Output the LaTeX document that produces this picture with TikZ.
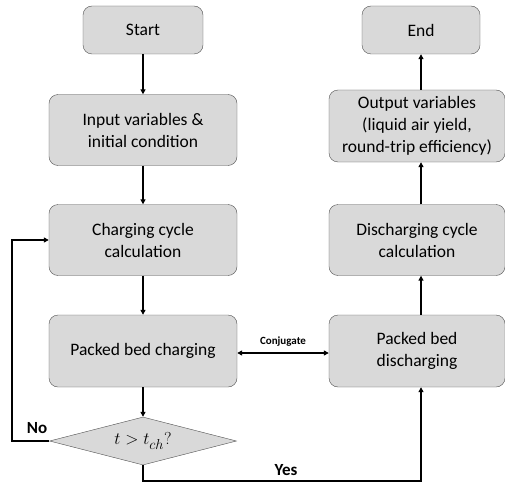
\documentclass[tikz,border=0pt]{standalone}
\usepackage{fontspec}
\setmainfont{Carlito}
\usetikzlibrary{arrows.meta, positioning, shapes.geometric}
\definecolor{boxfill}{RGB}{217,217,217}
\definecolor{boxline}{RGB}{80,80,80}

\begin{document}
\begin{tikzpicture}[x=1pt, y=-1pt,
    stepbox/.style={draw=boxline, fill=boxfill, rounded corners=9pt, thin,
      align=center, font=\fontsize{17.5}{22}\selectfont, inner sep=2pt},
    decision/.style={draw=boxline, fill=boxfill, diamond, aspect=3.9, thin,
      inner sep=0pt, minimum width=187pt, minimum height=48pt,
      font=\fontsize{19}{22}\selectfont},
    flow/.style={-{Triangle[length=5pt, width=5pt]}, line width=1.6pt},
    tag/.style={font=\bfseries\fontsize{17}{20}\selectfont}]
  \useasboundingbox (0,0) rectangle (505,484);
  % left column
  \node[stepbox, minimum width=120pt, minimum height=48pt] (start) at (143,30) {Start};
  \node[stepbox, minimum width=188pt, minimum height=71pt] (input) at (143,130) {Input variables \&\\initial condition};
  \node[stepbox, minimum width=188pt, minimum height=71pt] (chcalc) at (143,240) {Charging cycle\\calculation};
  \node[stepbox, minimum width=188pt, minimum height=72pt] (chbed) at (143,351) {Packed bed charging};
  \node[decision] (check) at (143,441) {$t > t_{ch}?$};
  % right column
  \node[stepbox, minimum width=118pt, minimum height=48pt] (finish) at (421,30) {End};
  \node[stepbox, minimum width=176pt, minimum height=72pt] (output) at (417,126) {Output variables\\(liquid air yield,\\round-trip efficiency)};
  \node[stepbox, minimum width=176pt, minimum height=71pt] (discalc) at (417,240) {Discharging cycle\\calculation};
  \node[stepbox, minimum width=176pt, minimum height=72pt] (disbed) at (417,351) {Packed bed\\discharging};
  \coordinate (loopl) at (12,441);
  \coordinate (loopb) at (143,481);
  % connectors
  \draw[flow] (start) -- (input);
  \draw[flow] (input) -- (chcalc);
  \draw[flow] (chcalc) -- (chbed);
  \draw[flow] (chbed) -- (check);
  \draw[flow] (check.west) -- (loopl) |- (chcalc.west);
  \draw[flow] (check.south) -- (loopb) -| (disbed.south -| finish);
  \draw[flow] (disbed.north -| finish) -- (discalc.south -| finish);
  \draw[flow] (discalc.north -| finish) -- (output.south -| finish);
  \draw[flow] (output.north -| finish) -- (finish);
  \draw[{Triangle[length=5pt, width=5pt]}-{Triangle[length=5pt, width=5pt]}, line width=1.6pt]
    ([yshift=-2pt]chbed.east) -- node[above=3pt, font=\bfseries\fontsize{11}{13}\selectfont] {Conjugate} ([yshift=-2pt]disbed.west);
  \node[tag] (no) at (37,428) {No};
  \node[tag] (yes) at (286,470) {Yes};
\end{tikzpicture}
\end{document}
